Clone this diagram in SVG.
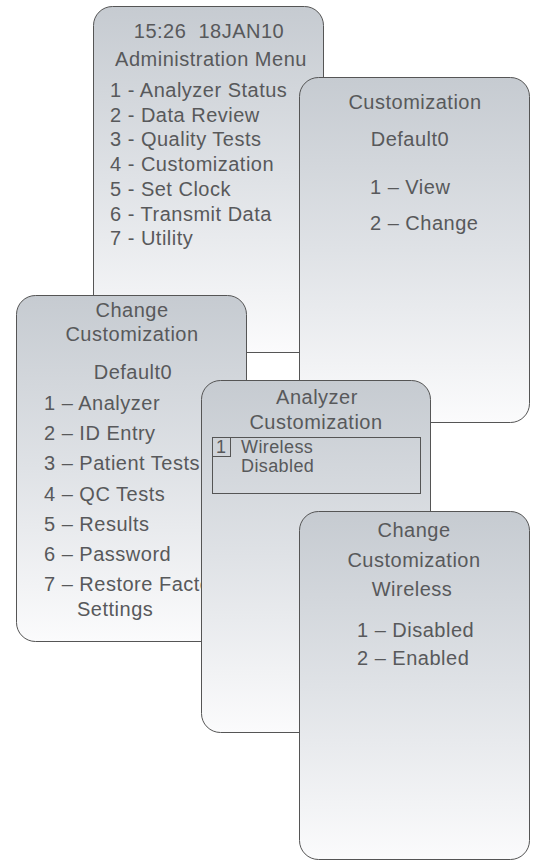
<svg xmlns="http://www.w3.org/2000/svg" width="536" height="861" viewBox="0 0 536 861">
  <defs>
    <linearGradient id="screenFill" x1="0" y1="0" x2="0" y2="1">
      <stop offset="0" stop-color="#c6cbd1"/>
      <stop offset="0.5" stop-color="#dfe2e6"/>
      <stop offset="1" stop-color="#fbfbfc"/>
    </linearGradient>
  </defs>
  <style>
    .screen { fill: url(#screenFill); stroke: #555555; stroke-width: 1; }
    .t { font-family: "Liberation Sans", Arial, sans-serif; font-size: 20px; letter-spacing: 0.5px; fill: #58595b; }
    .c { text-anchor: middle; }
    .s { font-size: 18px; letter-spacing: 0.4px; }
    .box { fill: none; stroke: #555555; stroke-width: 1; }
  </style>
  <rect width="536" height="861" fill="#ffffff"/>

  <!-- Administration menu screen -->
  <g id="admin-menu">
    <rect class="screen" x="93.5" y="6.5" width="230" height="346" rx="19" ry="19"/>
    <text class="t c" x="209" y="38" style="white-space:pre">15:26  18JAN10</text>
    <text class="t c" x="211" y="66">Administration Menu</text>
    <text class="t" x="110" y="97">1 - Analyzer Status</text>
    <text class="t" x="110" y="121.7">2 - Data Review</text>
    <text class="t" x="110" y="146.4">3 - Quality Tests</text>
    <text class="t" x="110" y="171">4 - Customization</text>
    <text class="t" x="110" y="195.8">5 - Set Clock</text>
    <text class="t" x="110" y="220.5">6 - Transmit Data</text>
    <text class="t" x="110" y="245.2">7 - Utility</text>
  </g>

  <!-- Customization screen -->
  <g id="customization">
    <rect class="screen" x="299.5" y="77.5" width="230" height="345" rx="19" ry="19"/>
    <text class="t c" x="415" y="109">Customization</text>
    <text class="t c" x="410" y="146">Default0</text>
    <text class="t" x="370" y="194">1 – View</text>
    <text class="t" x="370" y="230">2 – Change</text>
  </g>

  <!-- Change customization screen -->
  <g id="change-customization">
    <rect class="screen" x="16.5" y="295.5" width="230" height="346" rx="19" ry="19"/>
    <text class="t c" x="132" y="317">Change</text>
    <text class="t c" x="132" y="341">Customization</text>
    <text class="t c" x="133" y="379">Default0</text>
    <text class="t" x="44" y="410">1 – Analyzer</text>
    <text class="t" x="44" y="440">2 – ID Entry</text>
    <text class="t" x="44" y="470">3 – Patient Tests</text>
    <text class="t" x="44" y="500.5">4 – QC Tests</text>
    <text class="t" x="44" y="531">5 – Results</text>
    <text class="t" x="44" y="561">6 – Password</text>
    <text class="t" x="44" y="591">7 – Restore Factory</text>
    <text class="t" x="77" y="616">Settings</text>
  </g>

  <!-- Analyzer customization screen -->
  <g id="analyzer-customization">
    <rect class="screen" x="201.5" y="380.5" width="229" height="352" rx="19" ry="19"/>
    <text class="t c" x="317" y="404">Analyzer</text>
    <text class="t c" x="316" y="429">Customization</text>
    <rect class="box" x="212.5" y="437.5" width="208" height="56"/>
    <rect class="box" x="212.5" y="437.5" width="18" height="19"/>
    <text class="t s" x="216" y="453">1</text>
    <text class="t s" x="241" y="453">Wireless</text>
    <text class="t s" x="241" y="472">Disabled</text>
  </g>

  <!-- Wireless setting screen -->
  <g id="change-wireless">
    <rect class="screen" x="299.5" y="511.5" width="230" height="348" rx="19" ry="19"/>
    <text class="t c" x="414" y="537">Change</text>
    <text class="t c" x="414" y="567">Customization</text>
    <text class="t c" x="412" y="596">Wireless</text>
    <text class="t" x="357" y="637">1 – Disabled</text>
    <text class="t" x="357" y="665">2 – Enabled</text>
  </g>
</svg>
